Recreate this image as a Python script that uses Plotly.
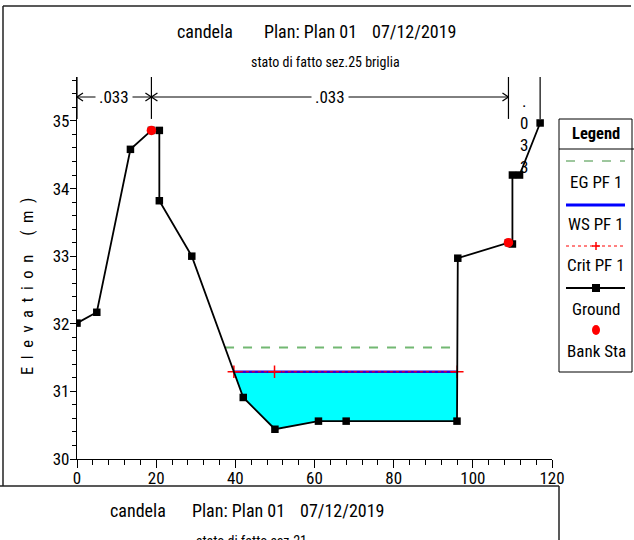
import plotly.graph_objects as go

# ---------------- data ----------------
station = [0, 5, 13.5, 18.8, 20.8, 20.8, 29.0, 42.0, 50.0, 61.0, 68.0, 96.0, 96.2, 109.0, 110.0, 110.0, 111.8, 117.0]
elevation = [32.01, 32.17, 34.58, 34.86, 34.86, 33.82, 33.0, 30.91, 30.44, 30.56, 30.56, 30.56, 32.97, 33.2, 33.18, 34.2, 34.2, 34.97]
bank_sta = [18.8, 109.0]
bank_elev = [34.86, 33.2]
ws_elev = 31.29
eg_elev = 31.65
crit_elev = 31.29
crit_mid_sta = [49.9]
n_sta = [0, 18.8, 109.0, 117.0]
n_values = [".033", ".033", ".033"]
x_ticks = [0, 20, 40, 60, 80, 100, 120]
y_ticks = [30, 31, 32, 33, 34, 35]

FONT = "Roboto Condensed, Liberation Sans, Arial, sans-serif"

# ---------------- geometry ----------------
W, H = 634, 540
L, R, T, B = 77, 552, 77, 459
XR = [0, 120]
YR = [30, 35.65]


def px_x(p):
    return (p - L) / (R - L)


def px_y(p):
    return (B - p) / (B - T)


def crossings(level):
    """stations where the ground crosses a given level."""
    xs = []
    for i in range(len(station) - 1):
        x0, x1 = station[i], station[i + 1]
        y0, y1 = elevation[i], elevation[i + 1]
        if (y0 - level) * (y1 - level) < 0:
            xs.append(x0 + (level - y0) * (x1 - x0) / (y1 - y0))
    return xs


ws_x = crossings(ws_elev)
eg_x = crossings(eg_elev)
wl, wr = ws_x[0], ws_x[-1]
el, er = eg_x[0], eg_x[-1]

fig = go.Figure()

# water fill
fx = [wl] + [s for s in station if wl < s < wr] + [wr]
fy = [ws_elev] + [e for s, e in zip(station, elevation) if wl < s < wr] + [ws_elev]
fig.add_trace(go.Scatter(x=fx, y=fy, fill="toself", fillcolor="#00FFFF",
                         line=dict(width=0), mode="lines", hoverinfo="skip"))
# EG
fig.add_trace(go.Scatter(x=[el, er], y=[eg_elev, eg_elev], mode="lines",
                         line=dict(color="#72b872", width=2, dash="dash")))
# WS
fig.add_trace(go.Scatter(x=[wl, wr], y=[ws_elev, ws_elev], mode="lines",
                         line=dict(color="#3300d8", width=2.5)))
# Crit
cx = [wl] + crit_mid_sta + [wr]
fig.add_trace(go.Scatter(x=cx, y=[crit_elev] * len(cx), mode="lines+markers",
                         line=dict(color="#FF0000", width=1, dash="dot"),
                         marker=dict(symbol="cross-thin", size=9,
                                     line=dict(color="#FF0000", width=1.5))))
# Ground
fig.add_trace(go.Scatter(x=station, y=elevation, mode="lines+markers",
                         line=dict(color="black", width=1.8),
                         marker=dict(symbol="square", size=7.5, color="black")))
# Bank stations
fig.add_trace(go.Scatter(x=bank_sta, y=bank_elev, mode="markers",
                         marker=dict(symbol="circle", size=9.5, color="#FF0000")))

shapes = []
annotations = []

# ---- Manning n markers ----
dx_px = (R - L) / (XR[1] - XR[0])
dy_px = (B - T) / (YR[1] - YR[0])
n_top_line = 35.03
arrow_y = YR[0] + (B - 97) / dy_px
ch_dx = 6 / dx_px
ch_dy = 4 / dy_px
for s in n_sta:
    shapes.append(dict(type="line", xref="x", yref="y", x0=s, x1=s, y0=n_top_line, y1=YR[1],
                       line=dict(color="black", width=1.2)))
for i, val in enumerate(n_values):
    a, b = n_sta[i], n_sta[i + 1]
    mid = (a + b) / 2
    if (b - a) * dx_px > 40:
        shapes.append(dict(type="line", xref="x", yref="y", x0=a, x1=b, y0=arrow_y, y1=arrow_y,
                           line=dict(color="black", width=1)))
        for end, sgn in ((a, 1), (b, -1)):
            for sy in (1, -1):
                shapes.append(dict(type="line", xref="x", yref="y", x0=end, x1=end + sgn * ch_dx,
                                   y0=arrow_y, y1=arrow_y + sy * ch_dy,
                                   line=dict(color="black", width=1.2)))
        annotations.append(dict(x=mid, y=arrow_y, xref="x", yref="y", text=val, showarrow=False,
                                font=dict(family=FONT, size=17, color="black"),
                                bgcolor="white", borderpad=3))
    else:
        annotations.append(dict(x=mid, y=YR[0] + (B - 134) / dy_px, xref="x", yref="y",
                                text="<br>".join(list(val)), showarrow=False,
                                font=dict(family=FONT, size=17, color="black")))


# ---- text helpers ----
def ptext(text, x, y, size, bold=False, **kw):
    t = "<b>%s</b>" % text if bold else text
    d = dict(text=t, x=px_x(x), y=px_y(y), xref="paper", yref="paper", showarrow=False,
             xanchor="center", yanchor="middle", font=dict(family=FONT, size=size, color="black"))
    d.update(kw)
    annotations.append(d)


def pline(x0, y0, x1, y1, color="black", width=1, dash="solid", layer="above"):
    shapes.append(dict(type="line", xref="paper", yref="paper", x0=px_x(x0), x1=px_x(x1),
                       y0=px_y(y0), y1=px_y(y1), line=dict(color=color, width=width, dash=dash),
                       layer=layer))


ptext("candela", 205, 31, 18)
ptext("Plan: Plan 01", 310, 31, 18)
ptext("07/12/2019", 414, 31, 18)
ptext("stato di fatto sez.25 briglia", 325, 62, 14)
ptext("E  l  e  v  a  t  i  o  n     (  m  )", 27, 287, 16.5, textangle=-90)

# ---- legend ----
LX0, LX1, LY0, LY1 = 559, 632, 119, 372
LC = 596
shapes.append(dict(type="rect", xref="paper", yref="paper", x0=px_x(LX0), x1=px_x(LX1),
                   y0=px_y(LY1), y1=px_y(LY0), fillcolor="white", line=dict(color="black", width=1)))
pline(LX0, 149, 634, 149)
ptext("Legend", LC, 133, 16.5, bold=True)
pline(566, 161, 625, 161, color="#3d8f3d", width=1, dash="dash")
ptext("EG PF 1", LC, 182, 17)
pline(566, 205, 625, 205, color="#0000FF", width=3)
ptext("WS PF 1", LC, 224, 17)
pline(566, 246, 625, 246, color="#FF0000", width=1, dash="dot")
pline(LC - 4, 246, LC + 4, 246, color="#FF0000", width=1.5)
pline(LC, 242, LC, 250, color="#FF0000", width=1.5)
ptext("Crit PF 1", LC, 265, 17)
pline(566, 288, 625, 288, color="black", width=2)
shapes.append(dict(type="rect", xref="paper", yref="paper", x0=px_x(LC - 4), x1=px_x(LC + 4),
                   y0=px_y(292), y1=px_y(284), fillcolor="black", line=dict(width=0)))
ptext("Ground", LC, 309, 17)
shapes.append(dict(type="circle", xref="paper", yref="paper", x0=px_x(LC - 4), x1=px_x(LC + 4),
                   y0=px_y(335), y1=px_y(325), fillcolor="#FF0000", line=dict(width=0)))
ptext("Bank Sta", LC, 351, 17)

# ---- window frames ----
shapes.append(dict(type="rect", xref="paper", yref="paper", x0=px_x(-10), x1=px_x(650),
                   y0=px_y(560), y1=px_y(486.5), fillcolor="white", line=dict(width=0), layer="above"))
pline(0, 486, 559, 486, color="#222", width=1.5)
pline(559, 486, 559, 545, color="#222", width=1.5)
pline(3, 6, 3, 486, color="#222", width=1.5)
pline(3, 6, 631, 6, color="#222", width=1.5)

ptext("candela", 138, 510, 18)
ptext("Plan: Plan 01", 238, 510, 18)
ptext("07/12/2019", 342, 510, 18)
ptext("stato di fatto sez.21", 251, 540.5, 14)

fig.update_layout(
    width=W, height=H,
    margin=dict(l=L, r=W - R, t=T, b=H - B, pad=0),
    paper_bgcolor="white", plot_bgcolor="white",
    showlegend=False,
    shapes=shapes, annotations=annotations,
    xaxis=dict(range=XR, tickvals=x_ticks, showgrid=False, zeroline=False,
               showline=True, linecolor="black", linewidth=1.2,
               ticks="outside", ticklen=8, tickcolor="black", tickwidth=1.2,
               ticklabelstandoff=-5,
               tickfont=dict(family=FONT, size=17, color="black"),
               minor=dict(dtick=4, ticks="outside", ticklen=5, tickcolor="black", tickwidth=1)),
    yaxis=dict(range=YR, tickvals=y_ticks, showgrid=False, zeroline=False,
               showline=True, linecolor="black", linewidth=1.2,
               ticks="outside", ticklen=6, tickcolor="black", tickwidth=1.2,
               ticklabelstandoff=-3,
               tickfont=dict(family=FONT, size=17, color="black"),
               minor=dict(dtick=0.2, ticks="outside", ticklen=4, tickcolor="black", tickwidth=1)),
)

fig.write_html("out.html")
